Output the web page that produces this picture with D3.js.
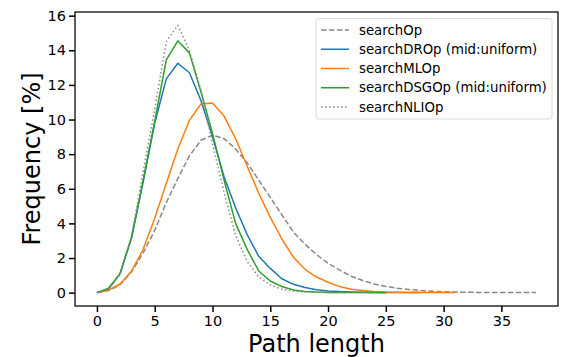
<!DOCTYPE html>
<html>
<head>
<meta charset="utf-8">
<script src="https://cdn.jsdelivr.net/npm/d3@7"></script>
<style>
  body { margin: 0; background: #fff; }
  text { font-family: "DejaVu Sans", sans-serif; fill: #000; }
</style>
</head>
<body>
<svg id="chart" width="565" height="357"></svg>
<script>
// path length frequencies [%], index = path length
let searchOp = [0, 0.12, 0.45, 1.2, 2.3, 3.6, 5.2, 6.6, 7.9, 8.8, 9.1, 8.9, 8.3, 7.5, 6.5, 5.5, 4.5, 3.5, 2.8, 2.2,
    1.7, 1.3, 0.95, 0.7, 0.5, 0.36, 0.26, 0.18, 0.12, 0.08, 0.05, 0.035, 0.02, 0.015, 0.01, 0.005, 0.003, 0.002, 0.001];
let searchDROp = [0, 0.2, 1.1, 3.2, 6.4, 9.8, 12.35, 13.25, 12.7, 11.1, 9.0, 6.7, 4.9, 3.35, 2.1, 1.4, 0.8, 0.48, 0.3, 0.17,
    0.1, 0.06, 0.04, 0.02, 0.01, 0.005, 0.003, 0.002, 0.001];
let searchMLOp = [0, 0.15, 0.5, 1.25, 2.5, 4.3, 6.3, 8.3, 9.95, 10.9, 10.95, 10.2, 8.9, 7.3, 5.75, 4.35, 3.1, 2.05, 1.35, 0.9,
    0.6, 0.35, 0.2, 0.12, 0.07, 0.04, 0.025, 0.015, 0.01, 0.005, 0.003, 0.001];
let searchDSGOp = [0, 0.25, 1.1, 3.2, 6.5, 9.9, 13.45, 14.55, 13.85, 11.6, 9.2, 6.5, 4.0, 2.5, 1.25, 0.67, 0.35, 0.15, 0.07, 0.03,
    0.015, 0.008, 0.004, 0.002, 0.001, 0];
let searchNLIOp = [0, 0.2, 1.05, 3.3, 7.0, 10.6, 14.5, 15.44, 14.0, 11.7, 8.6, 5.8, 3.3, 1.8, 0.9, 0.45, 0.2, 0.09, 0.04, 0.02,
    0.01, 0.005, 0.002, 0.001, 0];

let seriesNames = ["searchOp", "searchDROp (mid:uniform)", "searchMLOp", "searchDSGOp (mid:uniform)", "searchNLIOp"];
let seriesValues = [searchOp, searchDROp, searchMLOp, searchDSGOp, searchNLIOp];
let seriesColors = ["#888888", "#1f77b4", "#ff7f0e", "#2ca02c", "#888888"];
let seriesDash = ["5.55,2.4", null, null, null, "1.5,2.5"];

let xTicks = [0, 5, 10, 15, 20, 25, 30, 35];
let yTicks = [0, 2, 4, 6, 8, 10, 12, 14, 16];

let svg = d3.select("#chart");
let mLeft = 75, mTop = 12, mRight = 558, mBottom = 306;

let x = d3.scaleLinear().domain([-1.9, 39.9]).range([mLeft, mRight]);
let y = d3.scaleLinear().domain([-0.772, 16.212]).range([mBottom, mTop]);

let line = d3.line()
    .x(function (d, i) { return x(i); })
    .y(function (d) { return y(d); });

// curves
seriesValues.forEach(function (vals, k) {
    svg.append("path")
        .attr("d", line(vals))
        .attr("fill", "none")
        .attr("stroke", seriesColors[k])
        .attr("stroke-width", 1.5)
        .attr("stroke-dasharray", seriesDash[k])
        .attr("stroke-linejoin", "round");
});

// frame
svg.append("rect")
    .attr("x", mLeft).attr("y", mTop)
    .attr("width", mRight - mLeft).attr("height", mBottom - mTop)
    .attr("fill", "none").attr("stroke", "#000").attr("stroke-width", 1.25);

// axes
let xAxis = svg.append("g")
    .attr("transform", "translate(0," + mBottom + ")")
    .call(d3.axisBottom(x).tickValues(xTicks).tickSize(6).tickPadding(4));
let yAxis = svg.append("g")
    .attr("transform", "translate(" + mLeft + ",0)")
    .call(d3.axisLeft(y).tickValues(yTicks).tickSize(6).tickPadding(3));

[xAxis, yAxis].forEach(function (ax) {
    ax.select(".domain").remove();
    ax.selectAll(".tick line").attr("stroke", "#000").attr("stroke-width", 1.5);
    ax.selectAll(".tick text")
        .attr("fill", "#000")
        .style("font-family", "DejaVu Sans")
        .style("font-size", "14.5px");
});

svg.append("text")
    .attr("x", (mLeft + mRight) / 2).attr("y", 351.5)
    .attr("text-anchor", "middle")
    .style("font-size", "24px")
    .text("Path length");

svg.append("text")
    .attr("transform", "translate(40," + (mTop + mBottom) / 2 + ") rotate(-90)")
    .attr("text-anchor", "middle")
    .style("font-size", "24px")
    .text("Frequency [%]");

// legend
let legend = svg.append("g");
legend.append("rect")
    .attr("x", 316).attr("y", 18.5)
    .attr("width", 236).attr("height", 100.5)
    .attr("rx", 3)
    .attr("fill", "#fff").attr("fill-opacity", 0.8)
    .attr("stroke", "#d9d9d9").attr("stroke-width", 1);

seriesNames.forEach(function (name, k) {
    let ly = 30 + k * 19.25;
    legend.append("line")
        .attr("x1", 321).attr("x2", 349)
        .attr("y1", ly).attr("y2", ly)
        .attr("stroke", seriesColors[k])
        .attr("stroke-width", 1.5)
        .attr("stroke-dasharray", seriesDash[k]);
    legend.append("text")
        .attr("x", 359).attr("y", ly)
        .attr("dy", "0.35em")
        .style("font-size", "13.3px")
        .text(name);
});
</script>
</body>
</html>
